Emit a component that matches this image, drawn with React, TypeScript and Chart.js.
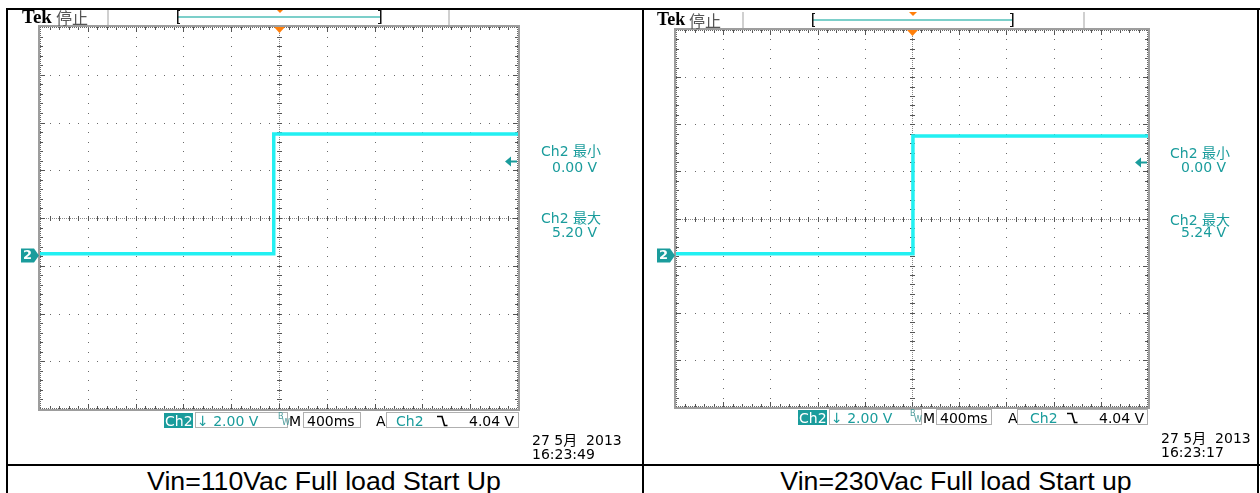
import React, { useEffect, useRef } from 'react';
import { Chart, registerables } from 'chart.js';

Chart.register(...registerables);

// ---------------- data ----------------
const timeRangeMs = [-2000, 2000]; // 10 div x 400 ms
const voltRange = [-6.5, 9.5]; // 8 div x 2 V, Ch2 ground at 0 V
const trace110Time = [-2000, -50, -44, 2000];
const trace110Volt = [0.0, 0.0, 5.02, 5.02];
const trace230Time = [-2000, 2, 8, 2000];
const trace230Volt = [0.0, 0.0, 5.0, 5.0];
const triggerMarkerVolt = [3.9, 3.9];
const captions = ['Vin=110Vac Full load Start Up', 'Vin=230Vac Full load Start up'];
const minLabels = ['0.00 V', '0.00 V'];
const maxLabels = ['5.20 V', '5.24 V'];
const clockLabels = ['16:23:49', '16:23:17'];
const dateLabel = '27 5月  2013';
const vScaleLabel = '2.00 V';
const timebaseLabel = '400ms';
const trigLabel = '4.04 V';

// ---------------- styles ----------------
const TRACE = '#22F0F2';
const TEAL = '#1A9C9C';
const ORANGE = '#FF7F0A';
const SCOPE_FONT = '"DejaVu Sans", "Noto Sans CJK SC", sans-serif';

type Cfg = {
  idx: number;
  ox: number;
  width: number;
  height: number;
  pad: { left: number; right: number; top: number; bottom: number };
  times: number[];
  volts: number[];
  hy: number;
  box: [number, number];
  dividers: number[];
};

function drawGrid(ctx: CanvasRenderingContext2D, a: any) {
  const L = a.left, R = a.right, T = a.top, B = a.bottom;
  const dx = (R - L) / 10, dy = (B - T) / 8;
  // frame
  ctx.fillStyle = '#9d9d9d';
  ctx.fillRect(L - 2, T - 2, R - L + 4, 2);
  ctx.fillRect(L - 2, B, R - L + 4, 2);
  ctx.fillRect(L - 2, T - 2, 2, B - T + 4);
  ctx.fillRect(R, T - 2, 2, B - T + 4);
  // major grid dotted lines
  ctx.fillStyle = '#6a6a6a';
  for (let i = 1; i < 10; i++) {
    if (i === 5) continue;
    const x = Math.round(L + i * dx);
    for (let j = 1; j < 40; j++) ctx.fillRect(x, Math.round(T + (j * dy) / 5), 1, 1);
  }
  for (let j = 1; j < 8; j++) {
    if (j === 4) continue;
    const y = Math.round(T + j * dy);
    for (let i = 1; i < 50; i++) ctx.fillRect(Math.round(L + (i * dx) / 5), y, 1, 1);
  }
  // center lines
  const cx = Math.round(L + 5 * dx), cy = Math.round(T + 4 * dy);
  ctx.fillStyle = '#8a8a8a';
  for (let y = T; y < B; y += 2) ctx.fillRect(cx, y, 1, 1);
  for (let x = L; x < R; x += 2) ctx.fillRect(x, cy, 1, 1);
  ctx.fillStyle = '#555';
  for (let j = 1; j < 40; j++) ctx.fillRect(cx - 2, Math.round(T + (j * dy) / 5), 5, 1);
  for (let i = 1; i < 50; i++) ctx.fillRect(Math.round(L + (i * dx) / 5), cy - 2, 1, 5);
  // edge ticks
  for (let i = 1; i < 50; i++) {
    const x = Math.round(L + (i * dx) / 5);
    const len = i % 5 === 0 ? 5 : 3;
    ctx.fillRect(x, T, 1, len);
    ctx.fillRect(x, B - len, 1, len);
  }
  for (let j = 1; j < 40; j++) {
    const y = Math.round(T + (j * dy) / 5);
    const len = j % 5 === 0 ? 5 : 3;
    ctx.fillRect(L, y, len, 1);
    ctx.fillRect(R - len, y, len, 1);
  }
  ctx.fillStyle = '#666';
  for (let x = L; x < R; x += 2) {
    ctx.fillRect(x, T, 1, 1);
    ctx.fillRect(x, B - 1, 1, 1);
  }
  for (let y = T; y < B; y += 2) {
    ctx.fillRect(L, y, 1, 1);
    ctx.fillRect(R - 1, y, 1, 1);
  }
}

const makeScopePlugin = (cfg: Cfg) => ({
  id: 'scope' + cfg.idx,
  beforeDatasetsDraw(chart: any) {
    const ctx = chart.ctx as CanvasRenderingContext2D;
    const a = chart.chartArea;
    ctx.save();
    drawGrid(ctx, a);
    ctx.translate(-cfg.ox, 0);
    const gTop = a.top - 2;
    // dividers in the header
    ctx.fillStyle = '#d0d0d0';
    cfg.dividers.forEach((x) => ctx.fillRect(x, cfg.hy - 1, 2, gTop - (cfg.hy - 1)));
    // record view box
    const [b0, b1] = cfg.box;
    ctx.fillStyle = '#7ccfca';
    ctx.fillRect(b0 + 1, cfg.hy + 6, b1 - b0 - 1, 2);
    ctx.fillStyle = '#111';
    ctx.fillRect(b0, cfg.hy, 1.5, 14);
    ctx.fillRect(b0, cfg.hy, 3, 1);
    ctx.fillRect(b0, cfg.hy + 13, 3, 1);
    ctx.fillRect(b1 - 1, cfg.hy, 1.5, 14);
    ctx.fillRect(b1 - 3, cfg.hy, 3, 1);
    ctx.fillRect(b1 - 3, cfg.hy + 13, 3, 1);
    ctx.restore();
  },
  afterDatasetsDraw(chart: any) {
    const ctx = chart.ctx as CanvasRenderingContext2D;
    const a = chart.chartArea;
    const xs = chart.scales.x, ys = chart.scales.y;
    ctx.save();
    const tx = Math.round(xs.getPixelForValue(0)) + 0.5;
    // trigger position marker on grid top
    ctx.fillStyle = ORANGE;
    ctx.beginPath();
    ctx.moveTo(tx - 5.5, a.top);
    ctx.lineTo(tx + 5.5, a.top);
    ctx.lineTo(tx, a.top + 6);
    ctx.closePath();
    ctx.fill();
    // small marker inside the record box
    ctx.beginPath();
    ctx.moveTo(tx - 3.5, cfg.hy - 1);
    ctx.lineTo(tx + 4.5, cfg.hy - 1);
    ctx.lineTo(tx + 0.5, cfg.hy + 3);
    ctx.closePath();
    ctx.fill();
    // ground marker "2"
    const gy = Math.round(ys.getPixelForValue(0)) + 1.5;
    const L = a.left;
    ctx.fillStyle = TEAL;
    ctx.beginPath();
    ctx.moveTo(L - 19, gy - 7);
    ctx.lineTo(L - 6, gy - 7);
    ctx.lineTo(L - 1, gy);
    ctx.lineTo(L - 6, gy + 7);
    ctx.lineTo(L - 19, gy + 7);
    ctx.closePath();
    ctx.fill();
    ctx.fillStyle = '#fff';
    ctx.font = 'bold 13px "DejaVu Sans", sans-serif';
    ctx.textBaseline = 'middle';
    ctx.fillText('2', L - 17, gy + 0.5);
    // trigger level arrow
    const ty = Math.round(ys.getPixelForValue(triggerMarkerVolt[cfg.idx])) + 0.5;
    const R = a.right;
    ctx.fillStyle = TEAL;
    ctx.beginPath();
    ctx.moveTo(R - 13, ty);
    ctx.lineTo(R - 7, ty - 5);
    ctx.lineTo(R - 7, ty + 5);
    ctx.closePath();
    ctx.fill();
    ctx.fillRect(R - 8, ty - 1, 7, 2);
    ctx.restore();
  },
});

function ScopeChart({ cfg }: { cfg: Cfg }) {
  const ref = useRef<HTMLCanvasElement | null>(null);
  useEffect(() => {
    const canvas = ref.current;
    if (!canvas) return;
    const chart = new Chart(canvas, {
      type: 'line',
      data: {
        datasets: [
          {
            data: cfg.times.map((t, i) => ({ x: t, y: cfg.volts[i] })),
            borderColor: TRACE,
            borderWidth: 3.5,
            pointRadius: 0,
            tension: 0,
            fill: false,
          },
        ],
      },
      options: {
        animation: false,
        responsive: false,
        maintainAspectRatio: false,
        devicePixelRatio: 1,
        events: [],
        layout: { padding: cfg.pad },
        plugins: { legend: { display: false }, tooltip: { enabled: false } },
        scales: {
          x: { type: 'linear', min: timeRangeMs[0], max: timeRangeMs[1], display: false },
          y: { type: 'linear', min: voltRange[0], max: voltRange[1], display: false },
        },
      } as any,
      plugins: [makeScopePlugin(cfg)],
    });
    return () => chart.destroy();
  }, []);
  return (
    <canvas
      ref={ref}
      width={cfg.width}
      height={cfg.height}
      style={{ position: 'absolute', left: cfg.ox, top: 0, width: cfg.width, height: cfg.height }}
    />
  );
}

const Txt = ({ x, y, size = 14, color = '#000', font = SCOPE_FONT, weight = 400, children }: any) => (
  <div
    style={{
      position: 'absolute',
      left: x,
      top: y,
      fontSize: size,
      lineHeight: `${size}px`,
      color,
      fontFamily: font,
      fontWeight: weight,
      whiteSpace: 'pre',
    }}
  >
    {children}
  </div>
);

const Box = ({ x0, x1, y, h = 15, bg, border }: any) => (
  <div
    style={{
      position: 'absolute',
      left: x0,
      top: y,
      width: x1 - x0,
      height: h,
      boxSizing: 'border-box',
      background: bg || 'transparent',
      border: border ? '1px solid #b0b0b0' : 'none',
    }}
  />
);

const FallEdge = ({ x, y }: any) => (
  <svg width="12" height="12" style={{ position: 'absolute', left: x, top: y }}>
    <polyline points="0,1.5 5,1.5 7.5,10.5 10.5,10.5" fill="none" stroke="#000" strokeWidth="1.6" />
  </svg>
);

type Lay = {
  tek: [number, number];
  stop: [number, number];
  side: [number, number, number];
  sideY: [number, number, number, number];
  rowY: number;
  ch2Box: [number, number];
  box2: [number, number];
  bw: number;
  m: number;
  box3: [number, number];
  a: number;
  box4: [number, number];
  ch2b: number;
  edge: number;
  trig: number;
  date: [number, number, number];
  tekSize: number;
};

function Readouts({ idx, l }: { idx: number; l: Lay }) {
  const ry = l.rowY;
  return (
    <>
      <Txt x={l.tek[0]} y={l.tek[1]} size={l.tekSize} font='"Liberation Serif", serif' weight={700}>
        Tek
      </Txt>
      <Txt x={l.stop[0]} y={l.stop[1]} size={16} color="#555" font='"Noto Sans CJK SC", sans-serif'>
        停止
      </Txt>
      <Txt x={l.side[0]} y={l.sideY[0]} color={TEAL}>
        Ch2 最小
      </Txt>
      <Txt x={l.side[1]} y={l.sideY[1]} color={TEAL}>
        {minLabels[idx]}
      </Txt>
      <Txt x={l.side[0]} y={l.sideY[2]} color={TEAL}>
        Ch2 最大
      </Txt>
      <Txt x={l.side[1]} y={l.sideY[3]} color={TEAL}>
        {maxLabels[idx]}
      </Txt>
      <Box x0={l.ch2Box[0]} x1={l.ch2Box[1]} y={ry} h={15} bg={TEAL} />
      <Txt x={l.ch2Box[0] + 1} y={ry + 1} color="#fff">
        Ch2
      </Txt>
      <Box x0={l.box2[0]} x1={l.box2[1]} y={ry - 1} h={16} border />
      <Txt x={l.box2[0] + 2} y={ry + 1} color={TEAL}>
        {'↓ ' + vScaleLabel}
      </Txt>
      <Txt x={l.bw} y={ry} size={8} color="#4a9a9a">
        B
      </Txt>
      <Txt x={l.bw + 4} y={ry + 6} size={8} color="#4a9a9a">
        W
      </Txt>
      <Txt x={l.m} y={ry + 1}>
        M
      </Txt>
      <Box x0={l.box3[0]} x1={l.box3[1]} y={ry - 1} h={16} border />
      <Txt x={l.box3[0] + 4} y={ry + 1}>
        {timebaseLabel}
      </Txt>
      <Txt x={l.a} y={ry + 1}>
        A
      </Txt>
      <Box x0={l.box4[0]} x1={l.box4[1]} y={ry - 1} h={16} border />
      <Txt x={l.ch2b} y={ry + 1} color={TEAL}>
        Ch2
      </Txt>
      <FallEdge x={l.edge} y={ry + 2} />
      <Txt x={l.trig} y={ry + 1}>
        {trigLabel}
      </Txt>
      <Txt x={l.date[0]} y={l.date[1]}>
        {dateLabel}
      </Txt>
      <Txt x={l.date[0]} y={l.date[2]}>
        {clockLabels[idx]}
      </Txt>
    </>
  );
}

const cfgL: Cfg = {
  idx: 0,
  ox: 0,
  width: 642,
  height: 464,
  pad: { left: 40, right: 124, top: 27, bottom: 55 },
  times: trace110Time,
  volts: trace110Volt,
  hy: 10,
  box: [177, 381],
  dividers: [107, 448],
};
const cfgR: Cfg = {
  idx: 1,
  ox: 644,
  width: 612,
  height: 464,
  pad: { left: 32, right: 108, top: 30, bottom: 57 },
  times: trace230Time,
  volts: trace230Volt,
  hy: 13,
  box: [812, 1013],
  dividers: [742, 1083],
};

const layL: Lay = {
  tek: [22, 7],
  stop: [56, 9],
  side: [541, 552, 0],
  sideY: [144, 160, 211, 225],
  rowY: 413,
  ch2Box: [164, 193],
  box2: [195, 288],
  bw: 278,
  m: 289,
  box3: [303, 361],
  a: 376,
  box4: [386, 519],
  ch2b: 396,
  edge: 437,
  trig: 469,
  date: [532, 433, 447],
  tekSize: 19,
};
const layR: Lay = {
  tek: [657, 10],
  stop: [689, 12],
  side: [1170, 1181, 0],
  sideY: [146, 160, 213, 225],
  rowY: 410,
  ch2Box: [798, 827],
  box2: [829, 922],
  bw: 910,
  m: 923,
  box3: [936, 992],
  a: 1008,
  box4: [1017, 1148],
  ch2b: 1030,
  edge: 1067,
  trig: 1099,
  date: [1161, 431, 445],
  tekSize: 18,
};

const Line = ({ x, y, w, h }: any) => (
  <div style={{ position: 'absolute', left: x, top: y, width: w, height: h, background: '#000' }} />
);

const captionStyle: any = {
  position: 'absolute',
  top: 466,
  textAlign: 'center',
  fontFamily: '"Liberation Sans", Arial, sans-serif',
  fontSize: 26.7,
  whiteSpace: 'pre',
};

export default function App() {
  return (
    <div
      style={{
        position: 'absolute',
        left: 0,
        top: 0,
        width: 1260,
        height: 493,
        background: '#fff',
        overflow: 'hidden',
      }}
    >
      <ScopeChart cfg={cfgL} />
      <ScopeChart cfg={cfgR} />
      <Readouts idx={0} l={layL} />
      <Readouts idx={1} l={layR} />
      <Line x={6} y={8} w={1254} h={2} />
      <Line x={6} y={8} w={2} h={485} />
      <Line x={642} y={8} w={2} h={485} />
      <Line x={1257} y={8} w={2} h={485} />
      <Line x={6} y={464} w={1254} h={2} />
      <div style={{ ...captionStyle, left: 8, width: 632 }}>{captions[0]}</div>
      <div style={{ ...captionStyle, left: 655, width: 602 }}>{captions[1]}</div>
    </div>
  );
}
